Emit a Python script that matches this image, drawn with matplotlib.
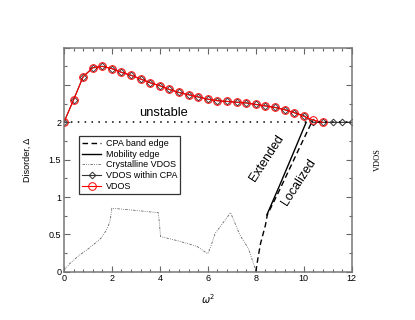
import matplotlib
matplotlib.use("Agg")
import matplotlib.pyplot as plt
import matplotlib.ticker as mticker
import numpy as np

plt.rcParams.update({
    "font.family": ["Liberation Sans", "DejaVu Sans"],
    "font.size": 6.5,
    "xtick.direction": "in",
    "ytick.direction": "in",
})

# VDOS curve (stability boundary), sampled every 0.4 in omega^2
w2_cpa = [0.0, 0.4, 0.8, 1.2, 1.6, 2.0, 2.4, 2.8, 3.2, 3.6, 4.0, 4.4, 4.8, 5.2,
          5.6, 6.0, 6.4, 6.8, 7.2, 7.6, 8.0, 8.4, 8.8, 9.2, 9.6, 10.0, 10.4,
          10.8, 11.2, 11.6, 12.0]
delta_cpa = [2.00, 2.30, 2.61, 2.73, 2.75, 2.72, 2.67, 2.63, 2.58, 2.53, 2.49,
             2.44, 2.40, 2.37, 2.34, 2.31, 2.29, 2.28, 2.27, 2.26, 2.24, 2.22,
             2.20, 2.17, 2.13, 2.09, 2.00, 2.00, 2.00, 2.00, 2.00]
w2_vdos = [0.0, 0.4, 0.8, 1.2, 1.6, 2.0, 2.4, 2.8, 3.2, 3.6, 4.0, 4.4, 4.8, 5.2,
           5.6, 6.0, 6.4, 6.8, 7.2, 7.6, 8.0, 8.4, 8.8, 9.2, 9.6, 10.0, 10.4,
           10.8]
delta_vdos = [2.00, 2.30, 2.61, 2.73, 2.75, 2.72, 2.67, 2.63, 2.58, 2.53, 2.49,
              2.44, 2.40, 2.37, 2.34, 2.31, 2.29, 2.28, 2.27, 2.26, 2.24, 2.22,
              2.20, 2.17, 2.13, 2.08, 2.03, 2.00]

# crystalline VDOS
w2_cryst = [0.0, 0.25, 0.6, 0.95, 1.3, 1.55, 1.78, 1.92, 2.0, 3.0, 3.94, 4.03,
            4.8, 5.54, 6.0, 6.15, 6.3, 6.6, 6.95, 7.13, 7.34, 7.69, 8.0]
vdos_cryst = [0.02, 0.11, 0.21, 0.29, 0.38, 0.45, 0.56, 0.67, 0.85, 0.82, 0.79,
              0.47, 0.41, 0.34, 0.24, 0.36, 0.51, 0.64, 0.79, 0.65, 0.49,
              0.31, 0.02]

# CPA band edge and mobility edge
w2_band = [8.0, 8.1, 8.2, 8.3, 8.4, 8.48, 9.0, 9.5, 10.0, 10.33]
delta_band = [0.0, 0.2, 0.38, 0.5, 0.62, 0.76, 1.1, 1.44, 1.78, 2.0]
w2_mob = [8.46, 9.0, 9.5, 10.1]
delta_mob = [0.76, 1.16, 1.54, 2.0]

fig = plt.figure(figsize=(4.15, 3.2), dpi=100)
ax = fig.add_axes([0.154, 0.151, 0.6935, 0.70])

ax.plot(w2_band, delta_band, color="black", lw=1.0, ls=(0, (4, 2.5)),
        label="CPA band edge")
ax.plot(w2_mob, delta_mob, color="black", lw=1.0, label="Mobility edge")
ax.plot(w2_cryst, vdos_cryst, color="#666666", lw=0.6,
        ls=(0, (3, 1.5, 1, 1.5, 1, 1.5)), label="Crystalline VDOS")
ax.plot(w2_cpa, delta_cpa, color="#333333", lw=0.8, marker="D", ms=3.4,
        mfc="none", mec="#333333", mew=0.7, label="VDOS within CPA")
ax.plot(w2_vdos, delta_vdos, color="red", lw=0.8, marker="o", ms=5.5,
        mfc="none", mec="red", mew=0.7, label="VDOS")
ax.axhline(2.0, color="black", lw=1.1, ls=(0, (1, 3.5)))

ax.text(4.14, 2.04, "unstable", fontsize=9.3, ha="center", va="bottom")
ax.text(8.46, 1.52, "Extended", fontsize=9.0, rotation=57,
        ha="center", va="center")
ax.text(9.78, 1.20, "Localized", fontsize=9.0, rotation=57,
        ha="center", va="center")

ax.set_xlim(0, 12)
ax.set_ylim(0, 3)
ax.xaxis.set_major_locator(mticker.MultipleLocator(2))
ax.xaxis.set_minor_locator(mticker.MultipleLocator(0.4))
ax.yaxis.set_major_locator(mticker.MultipleLocator(0.5))
ax.yaxis.set_minor_locator(mticker.MultipleLocator(0.25))
ax.yaxis.set_major_formatter(mticker.FuncFormatter(
    lambda v, _: "" if v > 2.01 else f"{v:g}"))
ax.tick_params(which="both", top=True, right=True, colors="#666666",
               labelcolor="black", labelsize=6.5, width=0.8)
ax.tick_params(which="major", length=4.5, pad=2)
ax.tick_params(which="minor", length=2.5)
for sp in ax.spines.values():
    sp.set_color("#777777")
    sp.set_linewidth(1.1)

ax.set_xlabel(r"$\omega^2$", fontsize=7, family="Liberation Serif", labelpad=6)
ax.set_ylabel("Disorder, Δ", fontsize=6.5, labelpad=12)
fig.text(0.91, 0.5, "VDOS", rotation=90, fontsize=6, ha="center", va="center",
         family="Liberation Serif")

leg = ax.legend(loc="upper left", bbox_to_anchor=(0.052, 0.605), fontsize=6.5,
                frameon=True, fancybox=False, handlelength=2.2,
                borderpad=0.3, labelspacing=0.2, handletextpad=0.5,
                borderaxespad=0)
leg.get_frame().set_edgecolor("black")
leg.get_frame().set_linewidth(0.9)

fig.savefig("out.png")
